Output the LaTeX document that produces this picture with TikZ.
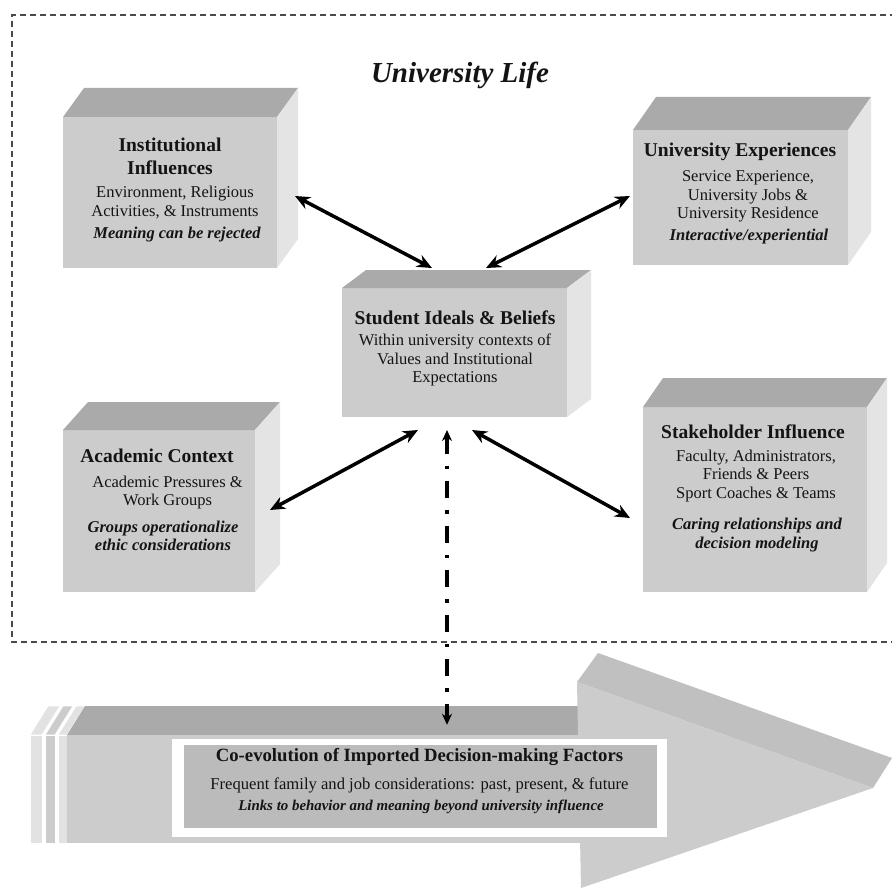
\documentclass[tikz,border=0pt]{standalone}
\usepackage{fontspec}
\setmainfont{Liberation Serif}
\usepackage{tikz}
\usepackage{xcolor}
\usetikzlibrary{arrows.meta,calc}
\definecolor{facegray}{HTML}{CCCCCC}
\definecolor{topgray}{HTML}{AAAAAA}
\definecolor{sidegray}{HTML}{E4E4E4}
\definecolor{headgray}{HTML}{C0C0C0}
\definecolor{labelgray}{HTML}{BBBBBB}
\definecolor{slabgray}{HTML}{E2E2E2}
\definecolor{borderink}{HTML}{4A4A4A}
\definecolor{ink}{HTML}{141414}
\tikzset{
  frontface/.style={fill=facegray,inner sep=0pt,outer sep=0pt},
  topface/.style={fill=topgray},
  sideface/.style={fill=sidegray},
  cubetitle/.style={font=\fontsize{19.5}{23}\selectfont\bfseries,text=ink,
                    align=center,inner sep=0pt},
  cubebody/.style={font=\fontsize{16.5}{18.5}\selectfont,text=ink,
                   align=center,inner sep=0pt},
  cubenote/.style={font=\fontsize{16.5}{18.5}\selectfont\bfseries\itshape,
                   text=ink,align=center,inner sep=0pt},
  link/.style={{Stealth[length=15pt,width=13pt]}-{Stealth[length=15pt,width=13pt]},
               line width=3.5pt,draw=black},
  tracer/.style={{Stealth[length=11pt,width=10pt]}-{Stealth[length=11pt,width=10pt]},
                 line width=3.5pt,draw=black,
                 dash pattern=on 17pt off 12pt on 3.5pt off 12pt},
  lifeborder/.style={draw=borderink,line width=1.6pt,dash pattern=on 6pt off 4pt}
}
% top and side faces of a box whose front face is node #1, depth (#2,#3)
\newcommand{\cubefaces}[3]{%
  \fill[topface] (#1.north west) -- ++(#2,-#3) -- ([shift={(#2,-#3)}]#1.north east)
    -- (#1.north east) -- cycle;
  \fill[sideface] (#1.north east) -- ++(#2,-#3) -- ([shift={(#2,-#3)}]#1.south east)
    -- (#1.south east) -- cycle;
}

\begin{document}
\begin{tikzpicture}[x=1pt,y=-1pt]
  \useasboundingbox (0,0) rectangle (892,888);
  \fill[white] (0,0) rectangle (892,888);

  % university life frame
  \draw[lifeborder] (896,15) -- (12,15) -- (12,642) -- (896,642);
  \node[font=\fontsize{29}{32}\selectfont\bfseries\itshape,text=ink,inner sep=0pt]
    (life) at (460,75) {University Life};

  % boxes
  \node[frontface,minimum width=214pt,minimum height=151pt] (inst) at (170,192.5) {};
  \cubefaces{inst}{21}{29}
  \node[frontface,minimum width=215pt,minimum height=135pt] (univ) at (740.5,197.5) {};
  \cubefaces{univ}{23}{33}
  \node[frontface,minimum width=225pt,minimum height=129pt] (stud) at (454.5,352.5) {};
  \cubefaces{stud}{24}{18}
  \node[frontface,minimum width=192pt,minimum height=162pt] (acad) at (159,511) {};
  \cubefaces{acad}{25}{28}
  \node[frontface,minimum width=224pt,minimum height=185pt] (stake) at (755,499.5) {};
  \cubefaces{stake}{20}{29}

  \node[cubetitle] (inst-title) at (170,156.5) {Institutional\\Influences};
  \node[cubebody] (inst-body) at (175,202.5) {Environment, Religious\\Activities, \& Instruments};
  \node[cubenote] (inst-note) at (177,235) {Meaning can be rejected};

  \node[cubetitle] (univ-title) at (740,152) {University Experiences};
  \node[cubebody] (univ-body) at (748,196.5) {Service Experience,\\University Jobs \&\\University Residence};
  \node[cubenote] (univ-note) at (749,237) {Interactive/experiential};

  \node[cubetitle] (stud-title) at (455,318) {Student Ideals \& Beliefs};
  \node[cubebody] (stud-body) at (455,360) {Within university contexts of\\Values and Institutional\\Expectations};

  \node[cubetitle] (acad-title) at (157,456) {Academic Context};
  \node[cubebody] (acad-body) at (167.5,492.5) {Academic Pressures \&\\Work Groups};
  \node[cubenote] (acad-note) at (163,536) {Groups operationalize\\ethic considerations};

  \node[cubetitle] (stake-title) at (753,432) {Stakeholder Influence};
  \node[cubebody] (stake-body) at (756,476) {Faculty, Administrators,\\Friends \& Peers\\Sport Coaches \& Teams};
  \node[cubenote] (stake-note) at (757,535) {Caring relationships and\\decision modeling};

  % big arrow
  \fill[slabgray,draw=white,line width=0.8pt] (30,735) -- ++(18,-29) -- ++(12,0) -- (42,735) -- cycle;
  \fill[slabgray,draw=white,line width=0.8pt] (30,735) rectangle (42,843);
  \fill[facegray,draw=white,line width=0.8pt] (45,735) -- ++(18,-29) -- ++(10,0) -- (55,735) -- cycle;
  \fill[facegray,draw=white,line width=0.8pt] (45,735) rectangle (55,843);
  \fill[slabgray,draw=white,line width=0.8pt] (58,735) -- ++(18,-29) -- ++(9,0) -- (67,735) -- cycle;
  \fill[slabgray,draw=white,line width=0.8pt] (58,735) rectangle (67,843);
  \fill[topface] (67,735) -- (85,706) -- (580,706) -- (580,735) -- cycle;
  \fill[facegray] (67,735) rectangle (580,843);
  \fill[headgray] (577,682) -- (598,653) -- (892,758) -- (873,788) -- cycle;
  \fill[facegray] (577,682) -- (873,788) -- (581,888) -- cycle;

  \node[fill=white,inner sep=0pt,minimum width=495pt,minimum height=98pt] (frame) at (419.5,788) {};
  \node[fill=labelgray,inner sep=0pt,minimum width=473pt,minimum height=83pt] (imported) at (420.5,786.5) {};
  \node[font=\fontsize{18.7}{20}\selectfont\bfseries,text=ink,inner sep=0pt] (imp-title) at (419.5,757)
    {Co-evolution of Imported Decision-making Factors};
  \node[font=\fontsize{16.6}{18}\selectfont,text=ink,inner sep=0pt] (imp-body) at (419.5,785)
    {Frequent family and job considerations: past, present, \& future};
  \node[font=\fontsize{14.9}{17}\selectfont\bfseries\itshape,text=ink,inner sep=0pt] (imp-note) at (421,807)
    {Links to behavior and meaning beyond university influence};

  % connectors
  \draw[link] ([xshift=18pt,yshift=-3.5pt]inst.east) -- ([xshift=-22.5pt,yshift=20pt]stud.north);
  \draw[link] ([xshift=-3pt,yshift=1.5pt]univ.west) -- ([xshift=31.5pt,yshift=20pt]stud.north);
  \draw[link] ([xshift=15pt,yshift=1pt]acad.east) -- ([xshift=-36.5pt,yshift=-13pt]stud.south);
  \draw[link] ([xshift=-13pt,yshift=-18.5pt]stake.west) -- ([xshift=17.5pt,yshift=-13pt]stud.south);
  \draw[tracer] ([xshift=-7.5pt,yshift=-13pt]stud.south) -- ([xshift=27.5pt,yshift=14pt]frame.north);
\end{tikzpicture}
\end{document}
